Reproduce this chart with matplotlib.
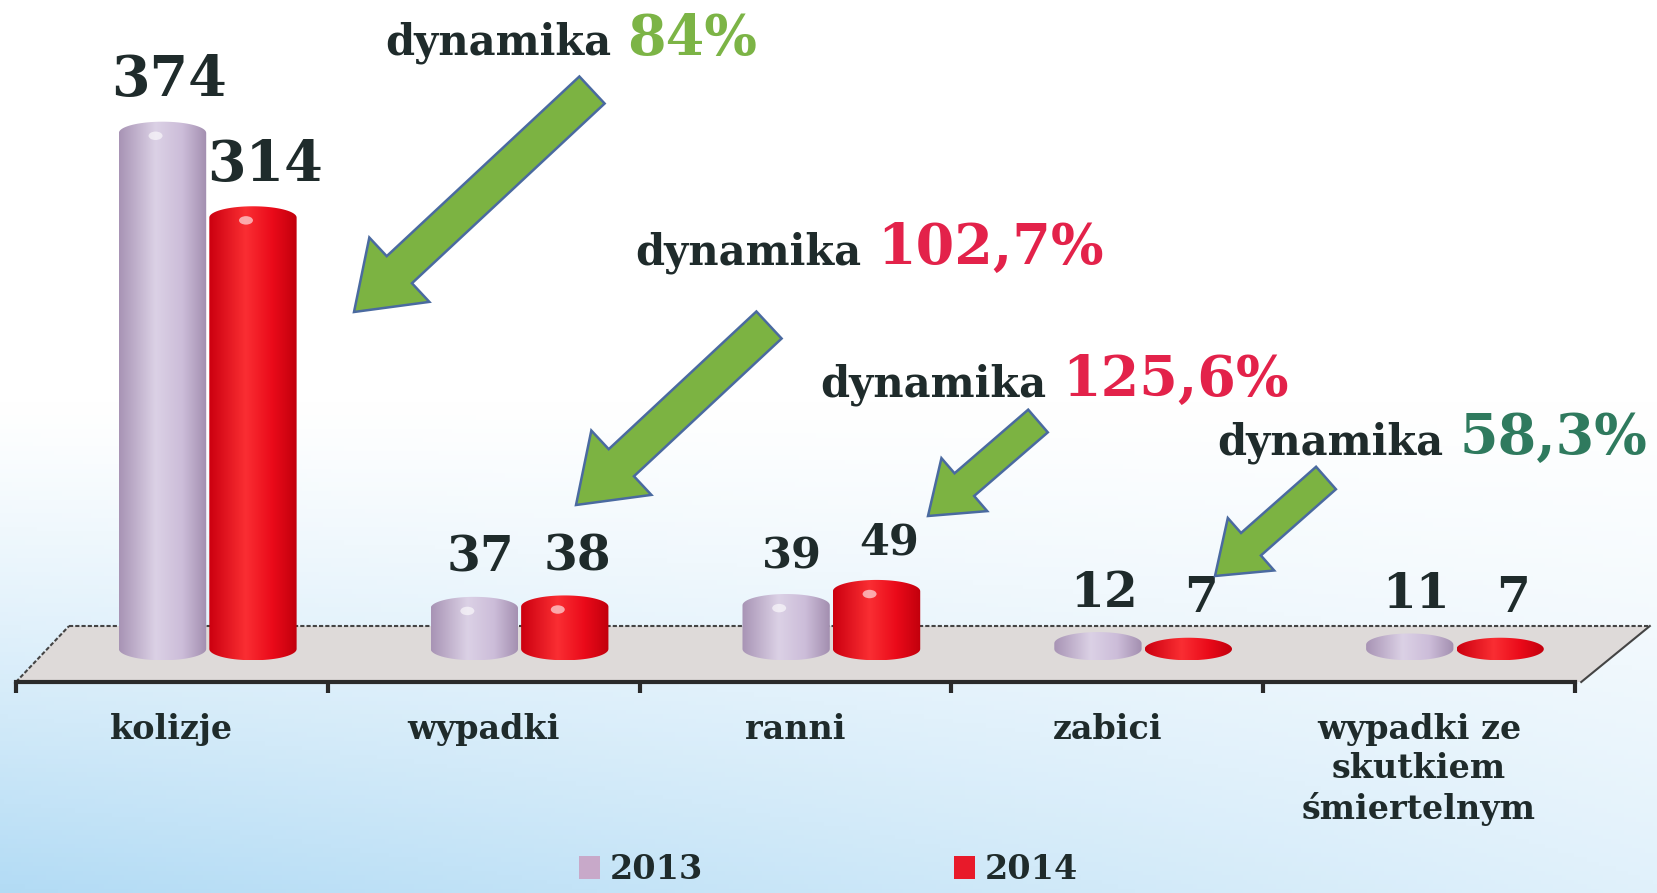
import numpy as np
import matplotlib.pyplot as plt
from matplotlib.patches import Polygon, FancyArrow, Patch, Ellipse

categories = ['kolizje', 'wypadki', 'ranni', 'zabici', 'wypadki ze\nskutkiem\nśmiertelnym']
years = ['2013', '2014']
values_2013 = [374, 37, 39, 12, 11]
values_2014 = [314, 38, 49, 7, 7]

SERIF = 'DejaVu Serif'
DARK = '#1f2b2b'

# colour stops across the cylinder (left edge -> right edge)
shade_2013 = [(0.66, 0.58, 0.71), (0.86, 0.82, 0.90), (0.80, 0.74, 0.85), (0.64, 0.56, 0.69)]
shade_2014 = [(0.80, 0.00, 0.06), (0.98, 0.18, 0.20), (0.92, 0.04, 0.10), (0.76, 0.00, 0.05)]


def cylinder(ax, rect, stops, ry=8):
    x0, w, v = rect.get_x(), rect.get_width(), rect.get_height()
    rect.set_visible(False)
    xc, rx = x0 + w / 2, w / 2
    th = np.linspace(0, np.pi, 40)
    top_c = max(v - ry, 0)
    top = np.c_[xc + rx * np.cos(th), top_c + ry * np.sin(th)]
    bot = np.c_[xc - rx * np.cos(th), -ry * np.sin(th)]
    clip = Polygon(np.vstack([top, bot]), closed=True, facecolor='none', edgecolor='none')
    ax.add_patch(clip)
    pos = np.linspace(0, 1, 80)
    st = np.array(stops)
    sp = np.linspace(0, 1, len(stops)) ** 0.8
    grad = np.stack([np.interp(pos, sp, st[:, k]) for k in range(3)], axis=-1)[None, :, :]
    im = ax.imshow(grad, extent=[x0, x0 + w, -ry, top_c + ry], aspect='auto',
                   interpolation='bicubic', zorder=3)
    im.set_clip_path(clip)
    # little glare near the top
    if v > 20:
        ax.add_patch(Ellipse((x0 + w * 0.42, top_c - 2), w * 0.16, 6, color='white',
                             alpha=0.6, zorder=4, lw=0))


fig = plt.figure(figsize=(16.57, 8.93), dpi=100)

# background wash
bg = fig.add_axes([0, 0, 1, 1], zorder=-10)
yy, xx = np.mgrid[0:1:200j, 0:1:400j]
t = np.clip((yy - 0.45) / 0.55, 0, 1) ** 1.2 * (1 - 0.6 * xx)
white = np.array([1.0, 1.0, 1.0])
blue = np.array([0.70, 0.86, 0.96])
bg.imshow(white + (blue - white) * t[..., None], aspect='auto', extent=[0, 1, 0, 1])
bg.axis('off')

ax = fig.add_axes([16 / 1657, (893 - 682) / 893, 1559 / 1657, 682 / 893])
ax.patch.set_alpha(0)

x = np.arange(len(categories))
bw = 0.28
b13 = ax.bar(x - 0.03, values_2013, bw, color='#c9b9d3')
b14 = ax.bar(x + 0.26, values_2014, bw, color='#e8101e')

# floor of the pseudo-3D plot
ax.add_patch(Polygon([(-0.5, -23.4), (4.52, -23.4), (4.74, 16.3), (-0.33, 16.3)],
                     closed=True, facecolor='#dedad9', edgecolor='none', zorder=1, clip_on=False))
ax.plot([-0.33, 4.74], [16.3, 16.3], ls=(0, (2, 1)), color='#444', lw=1.5, clip_on=False, zorder=2)
ax.plot([-0.5, -0.33], [-23.4, 16.3], ls=(0, (2, 1)), color='#444', lw=1.5, clip_on=False, zorder=2)
ax.plot([4.52, 4.74], [-23.4, 16.3], color='#444', lw=1.5, clip_on=False, zorder=2)

for rects, stops in ((b13, shade_2013), (b14, shade_2014)):
    for r in rects:
        cylinder(ax, r, stops)

label_sizes = [40, 35, 31, 35, 35]
for rects, vals, dx in ((b13, values_2013, 0.02), (b14, values_2014, 0.04)):
    for r, v, fs in zip(rects, vals, label_sizes):
        ax.text(r.get_x() + r.get_width() / 2 + dx, max(v, 8) + 18, str(v), ha='center',
                va='baseline', fontsize=fs, fontweight='bold', family=SERIF, color=DARK, zorder=5)

ax.set_xlim(-0.5, 4.5)
ax.set_ylim(-23.4, 460.3)
for s in ['top', 'left', 'right']:
    ax.spines[s].set_visible(False)
ax.spines['bottom'].set_linewidth(3)
ax.spines['bottom'].set_color('#2a2a2a')
ax.spines['bottom'].set_zorder(2)
ax.set_yticks([])
ax.set_xticks(x, categories)
ax.set_xticks(np.arange(-0.5, 5), minor=True)
ax.tick_params(axis='x', which='major', length=0, pad=22)
ax.tick_params(axis='x', which='minor', length=8, width=3, color='#2a2a2a')
for lab in ax.get_xticklabels():
    lab.set_fontfamily(SERIF)
    lab.set_fontweight('bold')
    lab.set_fontsize(24)
    lab.set_color(DARK)
    lab.set_linespacing(1.25)

# "dynamika" notes with arrows (pixel overlay)
ov = fig.add_axes([0, 0, 1, 1], zorder=5)
ov.set_xlim(0, 1657)
ov.set_ylim(893, 0)
ov.axis('off')

dyn_colors = ['#7cb446', '#e3224a', '#e3224a', '#2f7a5e']
note_pos = [(611, 55), (861, 264), (1046, 396), (1443, 454)]
arrows = [((592, 90), (354, 312), 37, 88, 62),
          ((769, 325), (576, 505), 37, 88, 62),
          ((1038, 421), (928, 516), 30, 70, 48),
          ((1326, 478), (1215, 576), 30, 70, 48)]

for i in range(4):
    d = values_2014[i] / values_2013[i] * 100
    s = f'{d:.1f}'.replace('.', ',')
    if s.endswith(',0'):
        s = s[:-2]
    px, py = note_pos[i]
    ov.text(px, py, 'dynamika', ha='right', va='baseline', fontsize=30, fontweight='bold',
            family=SERIF, color=DARK)
    ov.text(px + 16, py, s + '%', ha='left', va='baseline', fontsize=40, fontweight='bold',
            family=SERIF, color=dyn_colors[i])
    (tx, ty), (hx, hy), sw, hw, hl = arrows[i]
    ov.add_patch(FancyArrow(tx, ty, hx - tx, hy - ty, width=sw, head_width=hw, head_length=hl,
                            length_includes_head=True, facecolor='#7cb342',
                            edgecolor='#4a6aa0', lw=1.8))

handles = [Patch(facecolor='#c8a9c9', edgecolor='none'), Patch(facecolor='#e81a2a', edgecolor='none')]
fig.legend(handles, years, loc='center', bbox_to_anchor=(0.5, 0.026), ncol=2, frameon=False,
           prop=dict(family=SERIF, weight='bold', size=24), handlelength=0.65, handleheight=0.65,
           handletextpad=0.3, columnspacing=7.5, labelcolor=DARK)

fig.savefig('out.png', dpi=100)
